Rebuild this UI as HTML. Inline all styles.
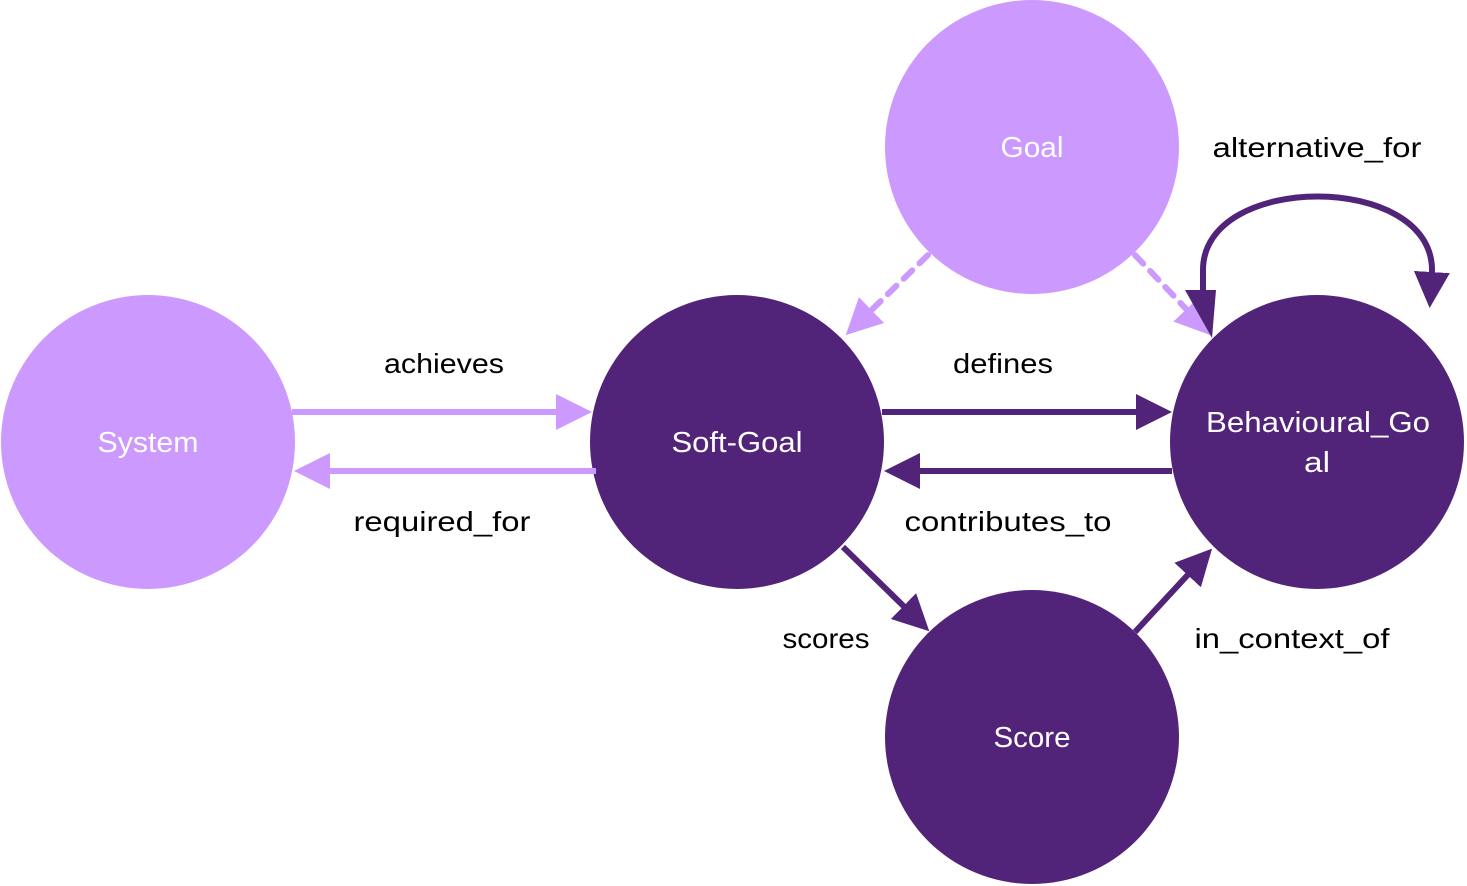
<!DOCTYPE html>
<html><head><style>body{margin:0;background:#fff}svg{display:block}text{font-family:"Liberation Sans",sans-serif}</style></head><body>
<svg width="1467" height="886" viewBox="0 0 1467 886">
<defs>
<marker id="hl" markerWidth="6" markerHeight="6" refX="5" refY="3" orient="auto" markerUnits="strokeWidth"><path d="M0,0 L6,3 L0,6 z" fill="#CC99FF"/></marker>
<marker id="hd" markerWidth="6" markerHeight="6" refX="5" refY="3" orient="auto" markerUnits="strokeWidth"><path d="M0,0 L6,3 L0,6 z" fill="#51247A"/></marker>
</defs>
<circle cx="148" cy="442" r="147" fill="#CC99FF"/>
<circle cx="737" cy="442" r="147" fill="#51247A"/>
<circle cx="1032" cy="147" r="147" fill="#CC99FF"/>
<circle cx="1317" cy="442" r="147" fill="#51247A"/>
<circle cx="1032" cy="737" r="147" fill="#51247A"/>
<g stroke-width="6" fill="none">
<line x1="292" y1="412" x2="586" y2="412" stroke="#CC99FF" marker-end="url(#hl)"/>
<line x1="596" y1="471" x2="300" y2="471" stroke="#CC99FF" marker-end="url(#hl)"/>
<line x1="882" y1="412" x2="1166" y2="412" stroke="#51247A" marker-end="url(#hd)"/>
<line x1="1172" y1="471" x2="890" y2="471" stroke="#51247A" marker-end="url(#hd)"/>
<line x1="843" y1="547" x2="925" y2="627" stroke="#51247A" marker-end="url(#hd)"/>
<line x1="1135" y1="632" x2="1208" y2="553" stroke="#51247A" marker-end="url(#hd)"/>
<line x1="928" y1="255" x2="850" y2="331" stroke="#CC99FF" stroke-dasharray="12,10" stroke-linecap="round" marker-end="url(#hl)"/>
<line x1="1135" y1="255" x2="1207" y2="331" stroke="#CC99FF" stroke-dasharray="12,10" stroke-linecap="round" marker-end="url(#hl)"/>
<path d="M1203,295 L1203,270 C1203,172 1432,172 1432,270 L1430,302" stroke="#51247A" marker-end="url(#hd)"/>
</g>
<path d="M1185,290 L1216,290 L1212,338 z" fill="#51247A"/>
<g font-size="29" fill="#fff" text-anchor="middle">
<text x="148" y="452" textLength="101" lengthAdjust="spacingAndGlyphs">System</text>
<text x="737" y="452" textLength="131" lengthAdjust="spacingAndGlyphs">Soft-Goal</text>
<text x="1032" y="157" textLength="63" lengthAdjust="spacingAndGlyphs">Goal</text>
<text x="1318" y="432" textLength="224" lengthAdjust="spacingAndGlyphs">Behavioural_Go</text>
<text x="1317" y="472" textLength="26" lengthAdjust="spacingAndGlyphs">al</text>
<text x="1032" y="747" textLength="77" lengthAdjust="spacingAndGlyphs">Score</text>
</g>
<g font-size="28" fill="#000" text-anchor="middle">
<text x="444" y="373" textLength="120" lengthAdjust="spacingAndGlyphs">achieves</text>
<text x="442" y="531" textLength="177" lengthAdjust="spacingAndGlyphs">required_for</text>
<text x="1003" y="373" textLength="100" lengthAdjust="spacingAndGlyphs">defines</text>
<text x="1008" y="531" textLength="207" lengthAdjust="spacingAndGlyphs">contributes_to</text>
<text x="826" y="648" textLength="87" lengthAdjust="spacingAndGlyphs">scores</text>
<text x="1292" y="648" textLength="195" lengthAdjust="spacingAndGlyphs">in_context_of</text>
<text x="1317" y="157" textLength="209" lengthAdjust="spacingAndGlyphs">alternative_for</text>
</g>
</svg>
</body></html>
